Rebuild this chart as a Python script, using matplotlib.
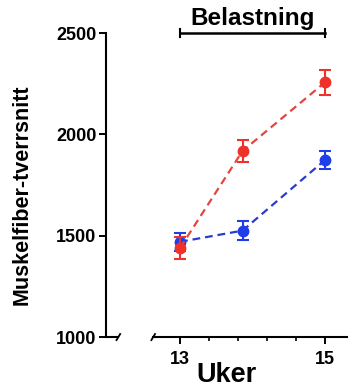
import matplotlib
matplotlib.use('Agg')
import matplotlib.pyplot as plt

plt.rcParams['font.family'] = ['Liberation Sans', 'DejaVu Sans']
plt.rcParams['font.weight'] = 'bold'

# data
weeks = [13, 13.86, 15]
red_mean = [1440, 1918, 2258]
red_err = [55, 52, 62]
blue_mean = [1470, 1525, 1875]
blue_err = [45, 47, 45]

x_ticks = [13, 15]
x_minor = [13.4, 13.8, 14.2, 14.6]
y_ticks = [1000, 1500, 2000, 2500]
bracket = (13, 15, 2500)

RED = '#ee3129'
BLUE = '#1f3de8'

fig = plt.figure(figsize=(3.53, 3.91), dpi=100)
ax = fig.add_axes([0.3003, 0.138, 0.683, 0.7775])

ax.errorbar(weeks, blue_mean, yerr=blue_err, color=BLUE, fmt='o', ms=7.5,
            capsize=4.5, elinewidth=1.5, capthick=1.5, zorder=3)
ax.plot(weeks, blue_mean, color='#2a3ccc', ls=(0, (3.5, 2.2)), lw=1.6, zorder=2)
ax.errorbar(weeks, red_mean, yerr=red_err, color=RED, fmt='o', ms=7.5,
            capsize=4.5, elinewidth=1.5, capthick=1.5, zorder=5)
ax.plot(weeks, red_mean, color='#e2463f', ls=(0, (3.5, 2.2)), lw=1.6, zorder=4)

ax.set_xlim(11.98, 15.30)
ax.set_ylim(1000, 2500)
ax.set_xticks(x_ticks)
ax.set_xticks(x_minor, minor=True)
ax.set_yticks(y_ticks)
ax.tick_params(axis='y', labelsize=13, width=1.4, length=5, pad=2)
ax.tick_params(axis='x', which='major', labelsize=13, width=1.4, length=5, pad=5)
ax.tick_params(axis='x', which='minor', width=1.2, length=3)

for s in ['top', 'right']:
    ax.spines[s].set_visible(False)
for s in ['left', 'bottom']:
    ax.spines[s].set_linewidth(1.5)
ax.spines['bottom'].set_bounds(12.63, 15.30)

# broken x axis: short stub at the y axis plus break marks
ax.plot([11.98, 12.15], [1000, 1000], color='black', lw=1.5, clip_on=False)
for xb in (12.15, 12.63):
    ax.plot([xb - 0.025, xb + 0.025], [985, 1015], color='black', lw=1.3,
            clip_on=False)

ax.set_ylabel('Muskelfiber-tverrsnitt', fontsize=15.5, fontweight='bold',
              labelpad=17, y=0.468)
ax.set_xlabel('Uker', fontsize=19.5, fontweight='bold', labelpad=-4)

# Belastning bracket
x0, x1, yb = bracket
ax.plot([x0, x1], [yb, yb], color='black', lw=1.8, clip_on=False)
for xe in (x0, x1):
    ax.plot([xe, xe], [yb - 20, yb + 20], color='black', lw=1.5, clip_on=False)
ax.text((x0 + x1) / 2, yb + 14, 'Belastning', ha='center', va='bottom',
        fontsize=17.5, fontweight='bold')

fig.savefig('out.png', dpi=100)
